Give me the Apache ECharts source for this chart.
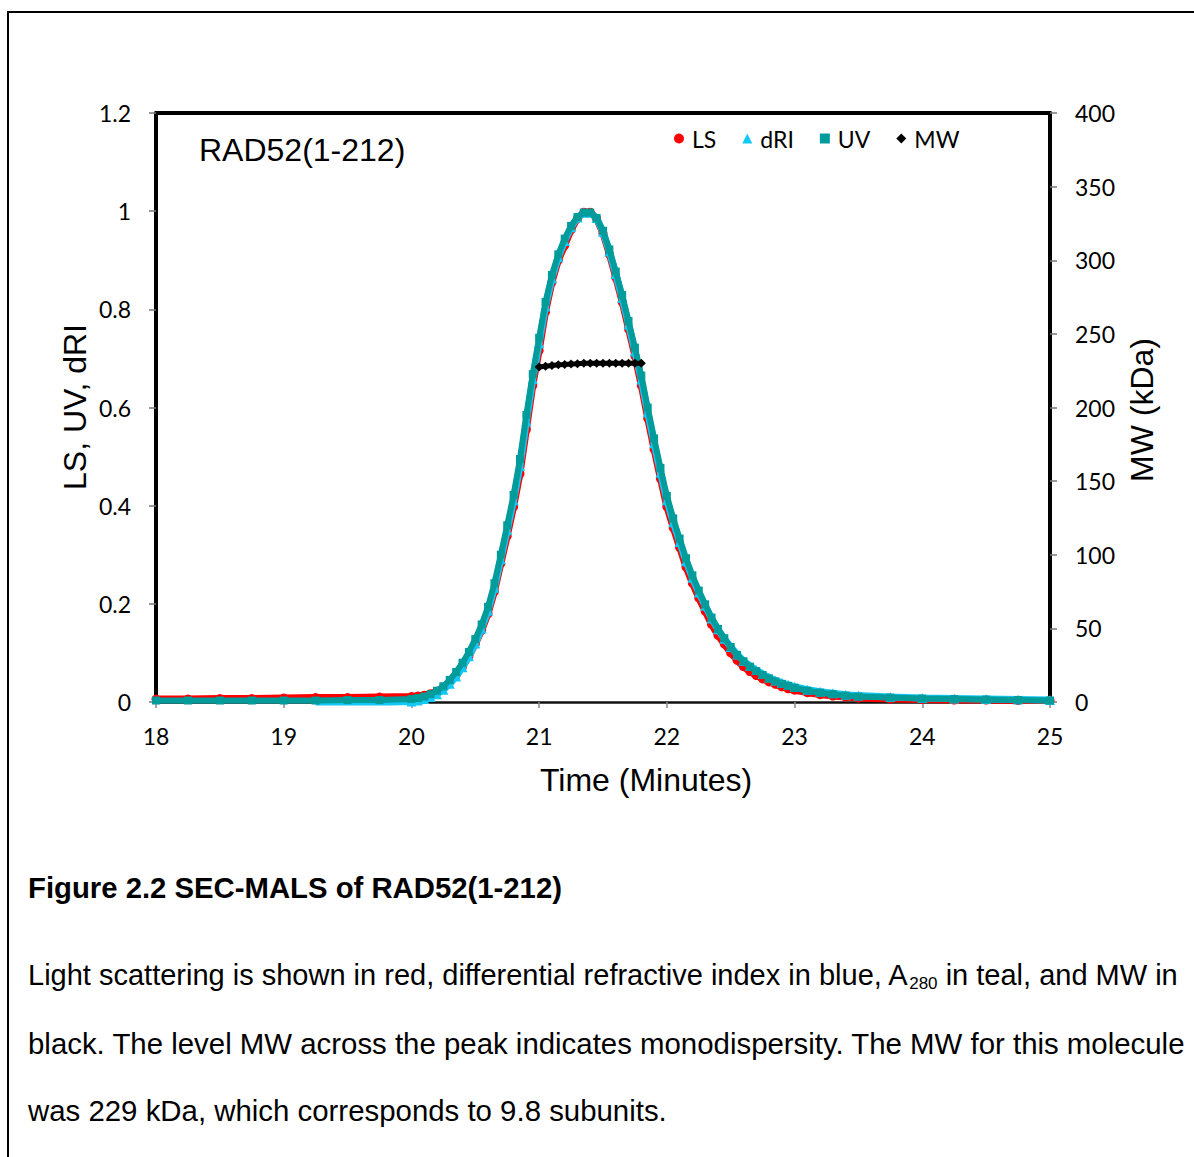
<!DOCTYPE html>
<html>
<head>
<meta charset="utf-8">
<script src="https://cdn.jsdelivr.net/npm/echarts@6/dist/echarts.min.js"></script>
<style>
html,body{margin:0;padding:0;background:#fff;}
#chart{width:1194px;height:1157px;}
</style>
</head>
<body>
<div id="chart"></div>
<script>
// ---- data ----
var times = [18.0,18.25,18.5,18.75,19.0,19.25,19.5,19.75,
  20.0,20.05,20.1,20.15,20.2,20.25,20.3,20.35,20.4,20.45,20.5,20.55,20.6,20.65,20.7,20.75,20.8,20.85,20.9,20.95,
  21.0,21.05,21.1,21.15,21.2,21.25,21.3,21.35,21.4,21.45,21.5,21.55,21.6,21.65,21.7,21.75,21.8,21.85,21.9,21.95,
  22.0,22.05,22.1,22.15,22.2,22.25,22.3,22.35,22.4,22.45,22.5,22.55,22.6,22.65,22.7,22.75,22.8,22.85,22.9,22.95,
  23.0,23.1,23.2,23.3,23.4,23.5,23.75,24.0,24.25,24.5,24.75,25.0];

var lsValues = [0.006,0.006,0.007,0.007,0.008,0.009,0.009,0.010,
  0.011,0.012,0.014,0.017,0.022,0.029,0.040,0.055,0.072,0.093,0.118,0.146,0.180,0.225,0.282,0.338,0.398,0.465,0.555,0.645,
  0.716,0.795,0.855,0.900,0.930,0.962,0.985,0.998,0.998,0.985,0.955,0.912,0.865,0.815,0.760,0.705,0.645,0.578,0.515,0.455,
  0.398,0.355,0.315,0.275,0.242,0.212,0.185,0.158,0.136,0.118,0.100,0.085,0.072,0.062,0.054,0.047,0.041,0.036,0.031,0.027,
  0.024,0.019,0.015,0.012,0.010,0.008,0.006,0.005,0.004,0.004,0.003,0.003];

var driValues = [null,null,null,null,null,-0.002,-0.002,-0.002,
  0.001,0.003,0.006,0.010,0.016,0.025,0.037,0.052,0.071,0.093,0.119,0.150,0.186,0.233,0.291,0.350,0.411,0.481,0.572,0.658,
  0.731,0.806,0.863,0.906,0.939,0.967,0.987,0.997,0.997,0.986,0.958,0.918,0.872,0.823,0.769,0.714,0.657,0.590,0.527,0.467,
  0.411,0.366,0.326,0.287,0.253,0.223,0.196,0.170,0.148,0.129,0.112,0.097,0.084,0.074,0.065,0.057,0.050,0.044,0.039,0.035,
  0.031,0.025,0.021,0.018,0.015,0.013,0.010,0.008,0.007,0.006,0.005,0.004];

var uvValues = [0.003,0.003,0.003,0.003,0.003,0.003,0.004,0.004,
  0.006,0.008,0.011,0.016,0.023,0.032,0.045,0.061,0.080,0.102,0.128,0.158,0.194,0.242,0.300,0.360,0.422,0.495,0.585,0.668,
  0.742,0.815,0.870,0.912,0.944,0.970,0.988,0.997,0.997,0.986,0.960,0.922,0.877,0.829,0.776,0.722,0.665,0.600,0.537,0.477,
  0.420,0.374,0.333,0.293,0.258,0.227,0.199,0.172,0.149,0.130,0.112,0.096,0.083,0.072,0.063,0.055,0.048,0.042,0.037,0.033,
  0.029,0.023,0.019,0.016,0.013,0.011,0.009,0.007,0.006,0.005,0.004,0.003];

var mwTimes = [21.0,21.05,21.1,21.15,21.2,21.25,21.3,21.35,21.4,21.45,21.5,21.55,21.6,21.65,21.7,21.75,21.8];
var mwValues = [227.5,228.0,228.5,229.0,229.2,229.5,229.7,230.0,230.0,230.0,230.0,230.0,230.0,230.0,230.0,230.0,230.0];

var xTicks = [18,19,20,21,22,23,24,25];
var leftTicks = [0,0.2,0.4,0.6,0.8,1,1.2];
var rightTicks = [0,50,100,150,200,250,300,350,400];

var seriesNames = ['LS','dRI','UV','MW'];
var chartLabel = 'RAD52(1-212)';
var xTitle = 'Time (Minutes)';
var yLeftTitle = 'LS, UV, dRI';
var yRightTitle = 'MW (kDa)';
var captionTitle = 'Figure 2.2 SEC-MALS of RAD52(1-212)';
var captionLine1a = 'Light scattering is shown in red, differential refractive index in blue, A';
var captionSub = '280';
var captionLine1b = ' in teal, and MW in';
var captionLine2 = 'black. The level MW across the peak indicates monodispersity. The MW for this molecule';
var captionLine3 = 'was 229 kDa, which corresponds to 9.8 subunits.';

// ---- build ----
function pairs(xs, ys){ var out=[]; for (var i=0;i<xs.length;i++){ out.push([xs[i], ys[i]]); } return out; }

var ctx = document.createElement('canvas').getContext('2d');
function textW(str, font){ ctx.font = font; return ctx.measureText(str).width; }

var capFont = '29.4px "Liberation Sans", Arial, sans-serif';
var cap1Font = '29px "Liberation Sans", Arial, sans-serif';
var subFont = '17px "Liberation Sans", Arial, sans-serif';
var titleFont = '32px "Liberation Sans", Arial, sans-serif';
var wA = textW(captionLine1a, cap1Font);
var wS = textW(captionSub, subFont);

var tickFont = 'Lato';
var chart = echarts.init(document.getElementById('chart'), null, {renderer:'svg'});

var option = {
  backgroundColor: '#ffffff',
  animation: false,
  grid: {left:156, right:144, top:113, bottom:455, show:false},
  legend: {
    left: 669, top: 122,
    itemWidth: 10, itemHeight: 10, itemGap: 26,
    textStyle: {fontFamily: tickFont, fontSize: 23, color:'#000', padding:[0,0,0,3]},
    data: [
      {name:'LS', icon:'circle', itemStyle:{color:'#ff0000'}},
      {name:'dRI', icon:'triangle', itemStyle:{color:'#14c8f5'}},
      {name:'UV', icon:'rect', itemStyle:{color:'#009b9b'}},
      {name:'MW', icon:'diamond', itemStyle:{color:'#000'}}
    ]
  },
  xAxis: [{
    type:'value', min: xTicks[0], max: xTicks[xTicks.length-1], interval: 1,
    axisLine:{show:true, onZero:false, lineStyle:{color:'#111', width:2.5}},
    axisTick:{show:true, length:6, lineStyle:{color:'#888', width:1.5}},
    axisLabel:{fontFamily: tickFont, fontSize:23, color:'#000', margin:22},
    splitLine:{show:false}
  },{
    type:'value', position:'top', min: xTicks[0], max: xTicks[xTicks.length-1], interval: 1,
    axisLine:{show:true, onZero:false, lineStyle:{color:'#000', width:4}},
    axisTick:{show:false}, axisLabel:{show:false}, splitLine:{show:false}
  }],
  yAxis: [{
    type:'value', min:0, max:1.2, interval:0.2, position:'left',
    axisLine:{show:true, onZero:false, lineStyle:{color:'#000', width:4}},
    axisTick:{show:true, length:7, lineStyle:{color:'#777', width:1.5}},
    axisLabel:{fontFamily: tickFont, fontSize:23, color:'#000', margin:25,
      formatter:function(v){ return String(Math.round(v*10)/10); }},
    splitLine:{show:false}
  },{
    type:'value', min:0, max:400, interval:50, position:'right',
    axisLine:{show:true, onZero:false, lineStyle:{color:'#000', width:4}},
    axisTick:{show:true, length:7, lineStyle:{color:'#777', width:1.5}},
    axisLabel:{fontFamily: tickFont, fontSize:23, color:'#000', margin:25},
    splitLine:{show:false}
  }],
  series: [
    {name:'LS', type:'line', data: pairs(times, lsValues), symbol:'circle', symbolSize:9, showAllSymbol:true,
      itemStyle:{color:'#ff0000'}, lineStyle:{color:'#ff0000', width:7}, z:2},
    {name:'dRI', type:'line', data: pairs(times, driValues), symbol:'triangle', symbolSize:10, showAllSymbol:true,
      connectNulls:false, itemStyle:{color:'#14c8f5'}, lineStyle:{color:'#14c8f5', width:7}, z:3},
    {name:'UV', type:'line', data: pairs(times, uvValues), symbol:'rect', symbolSize:8, showAllSymbol:true,
      itemStyle:{color:'#009b9b'}, lineStyle:{color:'#009b9b', width:6}, z:4},
    {name:'MW', type:'line', yAxisIndex:1, data: pairs(mwTimes, mwValues), symbol:'diamond', symbolSize:9, showAllSymbol:true,
      itemStyle:{color:'#000'}, lineStyle:{color:'#000', width:5}, z:5}
  ],
  graphic: [
    {type:'rect', shape:{x:8, y:12, width:1250, height:1250}, style:{fill:'none', stroke:'#000', lineWidth:2}, silent:true},
    {type:'text', x:199, y:150, style:{text:chartLabel, font:titleFont, fill:'#000', textAlign:'left', textVerticalAlign:'middle'}},
    {type:'text', x:646, y:780, style:{text:xTitle, font:titleFont, fill:'#000', textAlign:'center', textVerticalAlign:'middle'}},
    {type:'text', x:75, y:407, rotation:Math.PI/2, style:{text:yLeftTitle, font:titleFont, fill:'#000', textAlign:'center', textVerticalAlign:'middle'}},
    {type:'text', x:1142, y:410, rotation:Math.PI/2, style:{text:yRightTitle, font:titleFont, fill:'#000', textAlign:'center', textVerticalAlign:'middle'}},
    {type:'text', x:28, y:887, style:{text:captionTitle, font:'bold 29.3px "Liberation Sans", Arial, sans-serif', fill:'#000', textAlign:'left', textVerticalAlign:'middle'}},
    {type:'text', x:28, y:975, style:{text:captionLine1a, font:cap1Font, fill:'#000', textAlign:'left', textVerticalAlign:'middle'}},
    {type:'text', x:28+wA, y:983, style:{text:captionSub, font:subFont, fill:'#000', textAlign:'left', textVerticalAlign:'middle'}},
    {type:'text', x:28+wA+wS, y:975, style:{text:captionLine1b, font:cap1Font, fill:'#000', textAlign:'left', textVerticalAlign:'middle'}},
    {type:'text', x:28, y:1043, style:{text:captionLine2, font:capFont, fill:'#000', textAlign:'left', textVerticalAlign:'middle'}},
    {type:'text', x:28, y:1110, style:{text:captionLine3, font:capFont, fill:'#000', textAlign:'left', textVerticalAlign:'middle'}}
  ]
};
chart.setOption(option);
</script>
</body>
</html>
